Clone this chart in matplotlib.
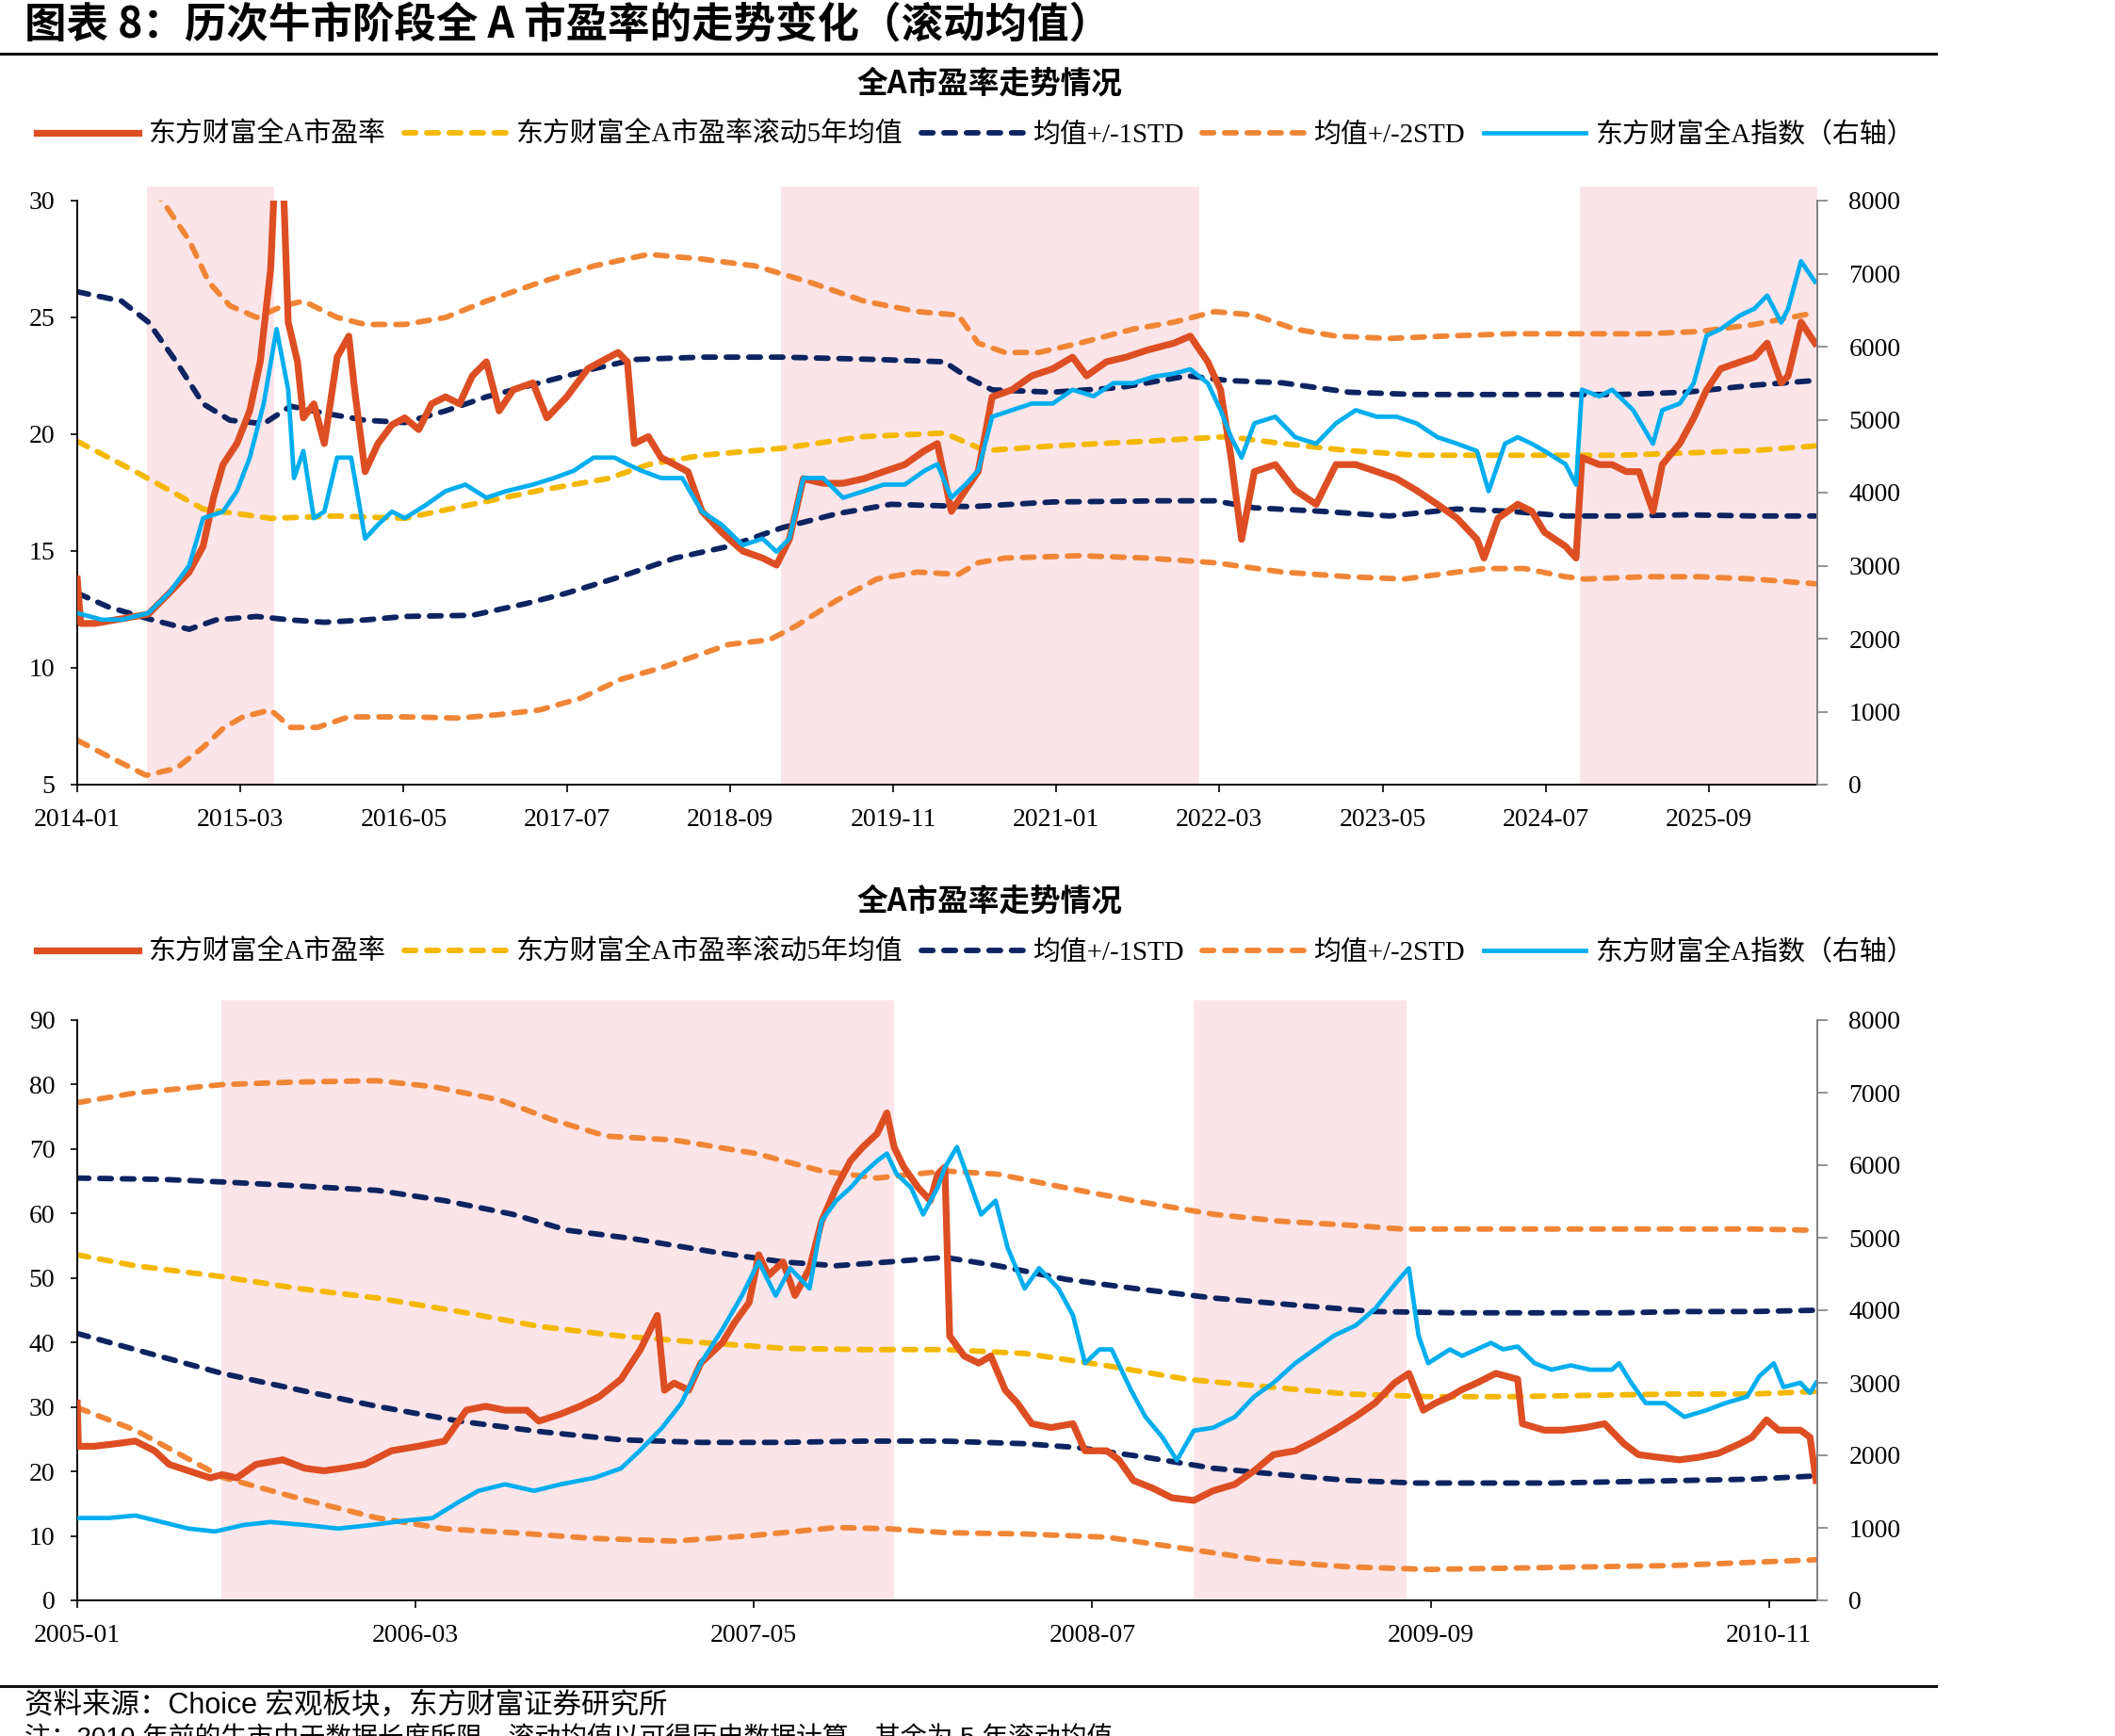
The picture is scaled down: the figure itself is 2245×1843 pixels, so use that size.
import numpy as np
import matplotlib
matplotlib.use("Agg")
from matplotlib import pyplot as plt
from matplotlib.lines import Line2D
from matplotlib.font_manager import FontProperties

plt.rcParams['font.family'] = ['Liberation Serif', 'Noto Sans CJK SC']
plt.rcParams['axes.unicode_minus'] = False

# ---------------- top panel: 2014-01 onwards, x = months since 2014-01 ----------------
top_ticklabels = ['2014-01', '2015-03', '2016-05', '2017-07', '2018-09', '2019-11',
                  '2021-01', '2022-03', '2023-05', '2024-07', '2025-09']
top_bull = [(6.0, 16.9), (60.4, 96.3), (128.9, 149.3)]

top_pe_t = [0, 0.3, 1.5, 3.8, 6.1, 7.9, 9.6, 10.8, 11.7, 12.5,
            13.7, 14.8, 15.7, 16.6, 16.9, 17.4, 17.7, 18.1, 18.9, 19.4,
            20.3, 21.2, 22.3, 23.3, 23.8, 24.7, 25.8, 27.0, 28.1, 29.3,
            30.4, 31.6, 32.8, 33.9, 35.1, 36.2, 37.4, 39.1, 40.3, 42.0,
            43.8, 44.9, 46.4, 47.2, 47.8, 49.0, 50.1, 52.4, 53.6, 55.3,
            57.1, 58.8, 60.0, 61.1, 62.3, 64.0, 65.7, 67.5, 69.2, 71.0,
            72.7, 73.8, 75.0, 76.2, 77.3, 78.5, 80.2, 81.9, 83.7, 85.4,
            86.6, 88.3, 90.0, 91.8, 94.1, 95.5, 97.0, 98.1, 99.0, 99.9,
            101.0, 102.8, 104.5, 106.3, 108.0, 109.7, 111.5, 113.2, 114.9, 116.7,
            118.4, 120.1, 120.7, 121.9, 123.6, 124.8, 125.9, 127.7, 128.6, 129.1,
            130.6, 131.7, 132.9, 134.0, 135.2, 136.0, 137.5, 138.7, 139.8, 141.0,
            142.7, 143.9, 145.0, 146.2, 146.8, 147.9, 149.1]
top_pe = [13.8, 11.9, 11.9, 12.1, 12.3, 13.2, 14.1, 15.2, 17.3, 18.7,
          19.6, 21.0, 23.1, 27.1, 30.5, 31.5, 30.5, 24.8, 23.1, 20.7,
          21.3, 19.6, 23.3, 24.2, 21.9, 18.4, 19.6, 20.4, 20.7, 20.2,
          21.3, 21.6, 21.3, 22.5, 23.1, 21.0, 21.9, 22.2, 20.7, 21.6,
          22.8, 23.1, 23.5, 23.1, 19.6, 19.9, 19.0, 18.4, 16.7, 15.8,
          15.0, 14.7, 14.4, 15.5, 18.1, 17.9, 17.9, 18.1, 18.4, 18.7,
          19.3, 19.6, 16.7, 17.6, 18.4, 21.6, 21.9, 22.5, 22.8, 23.3,
          22.5, 23.1, 23.3, 23.6, 23.9, 24.2, 23.1, 21.9, 19.0, 15.5,
          18.4, 18.7, 17.6, 17.0, 18.7, 18.7, 18.4, 18.1, 17.6, 17.0,
          16.4, 15.5, 14.7, 16.4, 17.0, 16.7, 15.8, 15.2, 14.7, 19.0,
          18.7, 18.7, 18.4, 18.4, 16.7, 18.7, 19.6, 20.7, 21.9, 22.8,
          23.1, 23.3, 23.9, 22.2, 22.5, 24.8, 23.9]

top_idx_t = [0, 2.1, 3.8, 6.1, 7.9, 9.6, 10.8, 12.5, 13.7, 14.8,
             16.0, 17.1, 18.1, 18.6, 19.4, 20.3, 21.2, 22.3, 23.5, 24.1,
             24.7, 25.8, 27.0, 28.1, 29.9, 31.6, 33.3, 35.1, 36.8, 39.1,
             40.9, 42.6, 44.3, 46.1, 47.2, 48.4, 50.1, 51.9, 53.6, 55.3,
             57.1, 58.8, 60.0, 61.1, 62.3, 64.0, 65.7, 67.5, 69.2, 71.0,
             72.7, 73.8, 75.0, 76.2, 77.3, 78.5, 80.2, 81.9, 83.7, 85.4,
             87.2, 88.9, 90.6, 92.4, 94.1, 95.5, 97.0, 98.1, 99.0, 99.9,
             101.0, 102.8, 104.5, 106.3, 108.0, 109.7, 111.5, 113.2, 114.9, 116.7,
             118.4, 120.1, 121.1, 122.5, 123.6, 124.8, 125.9, 127.7, 128.6, 129.1,
             130.6, 131.7, 133.5, 135.2, 136.0, 137.5, 138.7, 139.8, 141.0, 142.7,
             143.9, 145.0, 146.2, 146.8, 147.9, 149.1]
top_idx = [2350, 2260, 2260, 2350, 2630, 3000, 3650, 3740, 4020, 4480,
           5220, 6240, 5410, 4200, 4570, 3650, 3740, 4480, 4480, 3930,
           3370, 3560, 3740, 3650, 3830, 4020, 4110, 3930, 4020, 4110,
           4200, 4300, 4480, 4480, 4390, 4300, 4200, 4200, 3740, 3560,
           3280, 3370, 3190, 3370, 4200, 4200, 3930, 4020, 4110, 4110,
           4300, 4390, 3930, 4110, 4300, 5040, 5130, 5220, 5220, 5410,
           5320, 5500, 5500, 5590, 5630, 5690, 5500, 5130, 4760, 4480,
           4950, 5040, 4760, 4670, 4950, 5130, 5040, 5040, 4950, 4760,
           4670, 4570, 4020, 4670, 4760, 4670, 4570, 4390, 4110, 5410,
           5320, 5410, 5130, 4670, 5130, 5220, 5500, 6150, 6240, 6430,
           6520, 6700, 6330, 6520, 7170, 6890]

top_mean_t = [0, 5.0, 10.8, 16.6, 22.3, 28.1, 33.9, 39.7, 45.5, 49.0, 53.6, 60.5, 67.5, 74.4,
              77.9, 83.7, 91.8, 98.7, 103.4, 109.1, 114.9, 120.7, 126.5, 132.3, 138.1, 143.9, 149.1]
top_mean = [19.7, 18.4, 16.8, 16.4, 16.5, 16.4, 17.0, 17.6, 18.1, 18.7, 19.1, 19.4, 19.9, 20.05,
            19.3, 19.5, 19.7, 19.9, 19.6, 19.3, 19.1, 19.1, 19.1, 19.1, 19.2, 19.3, 19.5]

top_up1_t = [0, 3.8, 6.1, 8.5, 10.8, 13.1, 16.0, 18.3, 21.2, 24.7, 28.1, 31.6, 35.1, 39.7, 44.3,
             47.8, 53.6, 60.5, 68.6, 74.4, 76.5, 78.5, 83.7, 89.5, 95.3, 98.7, 103.4, 109.1,
             114.9, 120.7, 126.5, 132.3, 138.1, 143.9, 149.1]
top_up1 = [26.1, 25.7, 24.8, 23.1, 21.3, 20.6, 20.45, 21.2, 20.9, 20.6, 20.5, 21.0, 21.6, 22.2, 22.8,
           23.2, 23.3, 23.3, 23.2, 23.1, 22.4, 21.9, 21.8, 22.0, 22.5, 22.3, 22.2, 21.8,
           21.7, 21.7, 21.7, 21.7, 21.8, 22.1, 22.3]

top_dn1_t = [0, 2.7, 6.1, 9.6, 11.9, 15.4, 18.3, 21.2, 24.7, 28.1, 33.9, 38.5, 42.0, 46.6, 51.3,
             55.9, 60.5, 65.2, 69.8, 76.7, 83.7, 92.9, 97.6, 101.0, 106.8, 112.6, 118.4, 123.0,
             127.7, 132.3, 138.1, 143.9, 149.1]
top_dn1 = [13.2, 12.6, 12.1, 11.65, 12.05, 12.2, 12.05, 11.95, 12.05, 12.2, 12.25, 12.75, 13.2, 13.9, 14.7,
           15.2, 16.0, 16.6, 17.0, 16.9, 17.1, 17.15, 17.15, 16.85, 16.7, 16.5, 16.8, 16.7,
           16.5, 16.5, 16.55, 16.5, 16.5]

top_up2_t = [0, 3.8, 7.3, 9.6, 11.3, 13.1, 15.4, 17.7, 19.4, 22.3, 24.7, 28.1, 31.6, 35.1, 39.7,
             44.3, 49.0, 53.6, 58.2, 62.9, 67.5, 72.1, 75.6, 77.3, 79.6, 82.5, 86.0, 90.6, 94.1,
             97.6, 101.0, 104.5, 108.0, 112.6, 117.3, 123.0, 128.8, 134.6, 139.2, 143.9, 149.1]
top_up2 = [34.0, 31.8, 30.0, 28.3, 26.5, 25.5, 25.0, 25.5, 25.7, 25.0, 24.7, 24.7, 25.0, 25.7, 26.5,
           27.2, 27.7, 27.5, 27.2, 26.5, 25.7, 25.25, 25.1, 23.9, 23.5, 23.5, 23.9, 24.5, 24.8,
           25.25, 25.1, 24.5, 24.2, 24.1, 24.2, 24.3, 24.3, 24.3, 24.4, 24.7, 25.2]

top_dn2_t = [0, 2.7, 5.9, 8.5, 10.8, 12.5, 14.2, 16.6, 18.3, 20.6, 23.3, 28.1, 32.8, 36.2, 39.7,
             43.2, 46.6, 50.1, 53.6, 55.9, 59.4, 61.7, 65.2, 68.6, 72.1, 75.6, 77.3, 79.6, 86.0,
             91.8, 97.6, 103.4, 109.1, 113.8, 118.4, 120.7, 124.2, 127.7, 129.4, 134.6, 139.2,
             143.9, 149.1]
top_dn2 = [6.9, 6.2, 5.4, 5.7, 6.6, 7.4, 7.9, 8.2, 7.45, 7.45, 7.9, 7.9, 7.85, 8.0, 8.2,
           8.7, 9.5, 10.0, 10.6, 11.0, 11.2, 11.8, 12.9, 13.8, 14.1, 14.0, 14.5, 14.7, 14.8,
           14.7, 14.5, 14.1, 13.9, 13.8, 14.1, 14.25, 14.25, 13.9, 13.8, 13.9, 13.9,
           13.8, 13.6]

# ---------------- bottom panel: 2005-01 onwards, x = months since 2005-01 ----------------
bot_ticklabels = ['2005-01', '2006-03', '2007-05', '2008-07', '2009-09', '2010-11']
bot_bull = [(5.97, 33.8), (46.2, 55.0)]

bot_pe_t = [0, 0.05, 0.7, 1.6, 2.4, 3.2, 3.8, 4.6, 5.5, 6.0,
            6.6, 7.4, 8.5, 9.4, 10.2, 11.0, 11.9, 13.0, 14.1, 15.2,
            16.1, 16.9, 17.7, 18.6, 19.1, 20.0, 20.8, 21.6, 22.5, 23.3,
            24.0, 24.3, 24.7, 25.3, 25.8, 26.7, 27.2, 27.8, 28.2, 28.6,
            29.2, 29.7, 30.3, 30.8, 31.4, 32.0, 32.5, 33.1, 33.5, 33.8,
            34.2, 34.8, 35.3, 35.6, 35.9, 36.1, 36.7, 37.3, 37.8, 38.4,
            38.9, 39.5, 40.3, 41.2, 41.7, 42.6, 43.1, 43.7, 44.5, 45.3,
            46.2, 47.0, 47.9, 48.7, 49.5, 50.4, 51.2, 52.0, 52.9, 53.7,
            54.5, 55.1, 55.7, 56.2, 56.8, 57.3, 57.9, 58.7, 59.6, 59.8,
            60.7, 61.5, 62.4, 63.2, 64.0, 64.6, 65.4, 66.3, 67.1, 67.9,
            68.8, 69.3, 69.9, 70.4, 71.3, 71.7, 71.95]
bot_pe = [30.6, 23.9, 23.9, 24.3, 24.7, 23.2, 21.1, 20.1, 19.0, 19.5,
          19.0, 21.1, 21.8, 20.5, 20.1, 20.5, 21.1, 23.2, 23.9, 24.7,
          29.5, 30.1, 29.5, 29.5, 27.8, 28.9, 30.1, 31.6, 34.3, 38.9,
          44.2, 32.6, 33.7, 32.6, 36.8, 40.0, 43.1, 46.2, 53.6, 50.4,
          52.5, 47.3, 51.5, 58.8, 64.0, 68.2, 70.3, 72.4, 75.6, 70.3,
          67.2, 64.0, 62.0, 66.1, 67.2, 41.0, 37.9, 36.8, 37.9, 32.6,
          30.6, 27.4, 26.8, 27.4, 23.2, 23.2, 21.8, 18.6, 17.4, 15.9,
          15.5, 17.0, 18.0, 20.1, 22.6, 23.2, 24.7, 26.4, 28.5, 30.6,
          33.7, 35.2, 29.5, 30.6, 31.6, 32.7, 33.7, 35.2, 34.3, 27.4,
          26.4, 26.4, 26.8, 27.4, 24.3, 22.6, 22.2, 21.8, 22.2, 22.8,
          24.3, 25.3, 28.0, 26.4, 26.4, 25.3, 18.6]

bot_idx_t = [0, 1.3, 2.4, 3.5, 4.6, 5.7, 6.9, 8.0, 9.4, 10.8,
             12.2, 13.6, 14.7, 15.8, 16.6, 17.7, 18.9, 20.0, 21.4, 22.5,
             23.3, 24.2, 25.0, 25.8, 26.7, 27.5, 28.2, 28.9, 29.5, 30.3,
             30.8, 31.4, 32.0, 32.5, 33.1, 33.5, 33.9, 34.5, 35.0, 35.6,
             35.9, 36.4, 36.9, 37.4, 38.0, 38.5, 39.2, 39.8, 40.6, 41.2,
             41.7, 42.3, 42.8, 43.6, 44.2, 44.9, 45.5, 46.2, 47.0, 47.9,
             48.7, 49.5, 50.4, 51.2, 52.0, 52.9, 53.7, 54.6, 55.1, 55.5,
             55.9, 56.8, 57.3, 57.9, 58.5, 59.0, 59.6, 60.3, 61.0, 61.8,
             62.6, 63.5, 63.8, 64.3, 64.9, 65.7, 66.5, 67.4, 68.2, 69.1,
             69.6, 70.2, 70.6, 71.3, 71.7, 71.95]
bot_idx = [1135, 1135, 1170, 1080, 990, 950, 1040, 1080, 1040, 990,
           1040, 1100, 1135, 1360, 1510, 1600, 1510, 1600, 1690, 1820,
           2070, 2380, 2720, 3270, 3740, 4200, 4670, 4200, 4580, 4300,
           5230, 5510, 5690, 5880, 6060, 6160, 5880, 5690, 5320, 5690,
           5970, 6250, 5790, 5320, 5510, 4860, 4300, 4580, 4300, 3930,
           3270, 3460, 3460, 2900, 2530, 2250, 1930, 2340, 2380, 2530,
           2810, 3000, 3270, 3460, 3650, 3790, 4020, 4390, 4580, 3650,
           3270, 3460, 3370, 3460, 3550, 3460, 3500, 3270, 3180, 3240,
           3180, 3180, 3270, 3000, 2720, 2720, 2530, 2620, 2720, 2810,
           3090, 3270, 2940, 3000, 2860, 3000]

bot_mean_t = [0, 2.4, 6.0, 9.1, 12.4, 15.8, 19.1, 22.5, 25.8, 29.2, 32.5, 35.9, 39.2, 42.6,
              45.9, 49.3, 52.6, 55.9, 59.3, 62.6, 66.0, 69.3, 71.95]
bot_mean = [53.6, 51.9, 50.2, 48.4, 46.9, 44.8, 42.5, 41.0, 40.0, 39.1, 38.9, 38.9, 38.3, 36.4,
            34.3, 33.1, 32.0, 31.6, 31.6, 31.8, 32.0, 32.0, 32.4]

bot_up1_t = [0, 3.5, 6.0, 9.1, 12.4, 15.2, 18.0, 20.3, 23.0, 26.4, 29.2, 31.4, 33.6, 35.9, 38.1,
             40.9, 43.7, 47.0, 50.4, 53.7, 57.1, 61.0, 63.8, 66.5, 69.3, 71.95]
bot_up1 = [65.5, 65.3, 64.9, 64.3, 63.6, 62.0, 59.9, 57.4, 56.1, 54.0, 52.5, 51.9, 52.5, 53.2, 51.9,
           49.8, 48.4, 46.9, 45.8, 44.8, 44.6, 44.6, 44.6, 44.8, 44.8, 45.0]

bot_dn1_t = [0, 2.4, 6.0, 9.1, 12.4, 15.8, 19.1, 22.5, 25.8, 29.2, 32.5, 35.9, 39.2, 41.4, 44.2,
             47.0, 49.8, 52.6, 55.4, 58.2, 61.0, 63.8, 66.5, 69.3, 71.95]
bot_dn1 = [41.4, 38.9, 35.2, 32.7, 30.1, 27.8, 26.2, 24.9, 24.5, 24.5, 24.7, 24.7, 24.3, 23.7, 22.2,
           20.5, 19.5, 18.6, 18.2, 18.2, 18.2, 18.4, 18.6, 18.8, 19.3]

bot_up2_t = [0, 2.4, 6.0, 9.1, 12.4, 14.7, 17.5, 19.7, 21.9, 24.7, 28.1, 30.8, 33.1, 35.9, 38.1,
             40.9, 43.7, 47.0, 49.8, 52.6, 54.8, 58.2, 61.0, 63.8, 66.5, 69.3, 71.95]
bot_up2 = [77.2, 78.7, 80.0, 80.4, 80.6, 79.7, 77.6, 74.5, 72.0, 71.4, 69.3, 66.6, 65.5, 66.6, 66.1,
           64.0, 62.0, 59.9, 58.8, 58.2, 57.6, 57.6, 57.6, 57.6, 57.6, 57.6, 57.4]

bot_dn2_t = [0, 2.4, 6.0, 9.1, 12.4, 15.2, 18.0, 21.4, 24.7, 28.1, 31.4, 33.6, 35.9, 39.2, 42.6,
             45.9, 49.3, 52.6, 55.9, 59.3, 62.6, 66.0, 69.3, 71.95]
bot_dn2 = [29.9, 26.4, 19.1, 15.9, 12.8, 11.1, 10.5, 9.6, 9.2, 10.1, 11.3, 11.1, 10.5, 10.3, 9.8,
           8.0, 6.1, 5.2, 4.8, 5.0, 5.2, 5.4, 5.9, 6.3]

legend_labels = ['东方财富全A市盈率', '东方财富全A市盈率滚动5年均值', '均值+/-1STD',
                 '均值+/-2STD', '东方财富全A指数（右轴）']

# colours
c_pe = '#DD4E23'
c_mean = '#F4B800'
c_std1 = '#0D2461'
c_std2 = '#F08535'
c_idx = '#00AEEF'
c_bull = '#FBE5E8'

dash = (0, (2.1, 2.0))


def month_of(label, start_year):
    y, m = label.split('-')
    return (int(y) - start_year) * 12 + int(m) - 1


def draw_panel(rect, start_year, xmax, ylim, yticks, ticklabels, bull, bull_top,
               pe_t, pe, idx_t, idx, mean_t, mean, up1_t, up1, dn1_t, dn1,
               up2_t, up2, dn2_t, dn2):
    ax = fig.add_axes(rect)
    ax2 = ax.twinx()
    for a, b in bull:
        ax.axvspan(a, b, ymin=0, ymax=bull_top, color=c_bull, lw=0, zorder=0, clip_on=False)
    kw = dict(lw=4.2, linestyle=dash, dash_capstyle='round', zorder=2)
    l_up2, = ax.plot(up2_t, up2, color=c_std2, **kw)
    ax.plot(dn2_t, dn2, color=c_std2, **kw)
    l_up1, = ax.plot(up1_t, up1, color=c_std1, **kw)
    ax.plot(dn1_t, dn1, color=c_std1, **kw)
    l_mean, = ax.plot(mean_t, mean, color=c_mean, **kw)
    l_pe, = ax.plot(pe_t, pe, color=c_pe, lw=5.2, zorder=3, solid_joinstyle='round')
    l_idx, = ax2.plot(idx_t, idx, color=c_idx, lw=3.4, solid_joinstyle='round')

    ax.set_xlim(0, xmax)
    ax.set_ylim(*ylim)
    ax.set_yticks(yticks)
    ax2.set_ylim(0, 8000)
    ax2.set_yticks(range(0, 8001, 1000))
    ax.set_xticks([month_of(s, start_year) for s in ticklabels])
    ax.set_xticklabels(ticklabels)

    for s in ['top', 'right']:
        ax.spines[s].set_visible(False)
    for s in ['top', 'left', 'bottom']:
        ax2.spines[s].set_visible(False)
    ax.spines['left'].set_linewidth(1.4)
    ax.spines['bottom'].set_linewidth(1.4)
    ax2.spines['right'].set_color('#808080')
    ax2.spines['right'].set_linewidth(1.4)
    ax.tick_params(axis='y', direction='out', length=5, width=1.2, pad=12, labelsize=20)
    ax.tick_params(axis='x', direction='out', length=6, width=1.2, pad=12, labelsize=20)
    ax2.tick_params(axis='y', direction='out', length=8, width=1.2, pad=16, labelsize=20,
                    color='#808080')
    return [l_pe, l_mean, l_up1, l_up2, l_idx]


fig = plt.figure(figsize=(22.45, 18.43), dpi=100)

leg_prop = FontProperties(family=['Liberation Serif', 'Noto Sans CJK SC'], size=20.8)
head_prop = FontProperties(family=['Noto Sans CJK SC'], size=23.5, weight='bold')
leg_kw = dict(loc='center left', ncol=5, frameon=False, prop=leg_prop, handlelength=3.74,
              handletextpad=0.38, columnspacing=0.66, borderpad=0, borderaxespad=0)

# top panel
h = draw_panel([82 / 2245, 1 - 833 / 1843, 1847 / 2245, 620 / 1843], 2014, 149.3,
               (5, 30), range(5, 31, 5), top_ticklabels, top_bull, 1.025,
               top_pe_t, top_pe, top_idx_t, top_idx, top_mean_t, top_mean,
               top_up1_t, top_up1, top_dn1_t, top_dn1, top_up2_t, top_up2, top_dn2_t, top_dn2)
fig.text(1050 / 2245, 1 - 89 / 1843, '全A市盈率走势情况', fontproperties=head_prop,
         ha='center', va='center')
fig.legend(h, legend_labels, bbox_to_anchor=(39 / 2245, 1 - 143 / 1843), **leg_kw)

# bottom panel
h = draw_panel([82 / 2245, 1 - 1699 / 1843, 1847 / 2245, 616 / 1843], 2005, 72.0,
               (0, 90), range(0, 91, 10), bot_ticklabels, bot_bull, 1.034,
               bot_pe_t, bot_pe, bot_idx_t, bot_idx, bot_mean_t, bot_mean,
               bot_up1_t, bot_up1, bot_dn1_t, bot_dn1, bot_up2_t, bot_up2, bot_dn2_t, bot_dn2)
fig.text(1050 / 2245, 1 - 957 / 1843, '全A市盈率走势情况', fontproperties=head_prop,
         ha='center', va='center')
fig.legend(h, legend_labels, bbox_to_anchor=(39 / 2245, 1 - 1011 / 1843), **leg_kw)

# header / footer
fig.text(26 / 2245, 1 - 27 / 1843, '图表 8：历次牛市阶段全 A 市盈率的走势变化（滚动均值）',
         family=['Noto Sans CJK SC'], fontsize=32, weight='bold', ha='left', va='center')
fig.add_artist(Line2D([0, 2055 / 2245], [1 - 57 / 1843] * 2, color='#111111', lw=2.2))
fig.add_artist(Line2D([0, 2055 / 2245], [1 - 1790 / 1843] * 2, color='#111111', lw=2.2))
fig.text(26 / 2245, 1 - 1811 / 1843, '资料来源：Choice 宏观板块，东方财富证券研究所',
         family=['Liberation Sans', 'Noto Sans CJK SC'], fontsize=22, ha='left', va='center')
fig.text(26 / 2245, 1 - 1833 / 1843, '注：2010 年前的牛市由于数据长度所限，滚动均值以可得历史数据计算，其余为 5 年滚动均值',
         family=['Liberation Sans', 'Noto Sans CJK SC'], fontsize=20, ha='left', va='top')

fig.savefig('out.png', dpi=100)
